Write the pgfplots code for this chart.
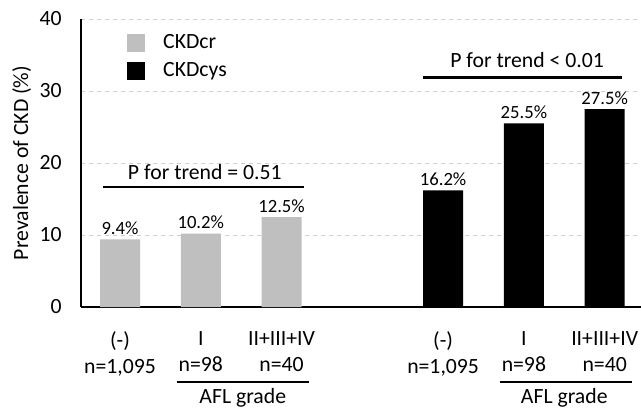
\documentclass[border=0pt]{standalone}
\usepackage{fontspec}
\setmainfont{Carlito}
\usepackage{pgfplots}
\pgfplotsset{compat=1.18}
\definecolor{barGray}{RGB}{191,191,191}
\definecolor{gridGray}{RGB}{205,205,205}
\newcommand{\bigf}{\fontsize{16.3}{18.75}\selectfont}
\newcommand{\smallf}{\fontsize{14}{16}\selectfont}
\begin{document}
\begin{tikzpicture}
\path[use as bounding box] (-60.75pt,-75.75pt) rectangle (420pt,230.25pt);
\begin{axis}[
  at={(0,0)}, anchor=south west,
  scale only axis, width=420pt, height=216pt,
  xmin=-0.483, xmax=6.45, ymin=0, ymax=40,
  axis lines*=left,
  axis line style={line width=1.8pt, black},
  ytick={0,10,20,30,40},
  xtick={0,1,2,4,5,6},
  xticklabels={{(-)\\[0.5pt]n=1,095},{I\\[0.5pt]n=98},{II+III+IV\\[0.5pt]n=40},{(-)\\[0.5pt]n=1,095},{I\\[0.5pt]n=98},{II+III+IV\\[0.5pt]n=40}},
  xticklabel style={align=center, font=\bigf, yshift=-15pt},
  yticklabel style={font=\bigf, xshift=-11pt},
  /pgf/number format/assume math mode=true,
  major tick length=0pt,
  ymajorgrids, grid style={dashed, gridGray, line width=0.6pt},
  ylabel={Prevalence of CKD (\%)},
  ylabel style={at={(axis description cs:-0.106,0.5)}, anchor=center, font=\bigf},
  bar shift=0pt,
  clip=false,
  nodes near coords,
  nodes near coords style={font=\smallf, black},
  legend style={at={(rel axis cs:0.082,0.95)}, anchor=north west, draw=none, fill=none,
    inner sep=0pt, row sep=7pt, font=\bigf, legend cell align=left,
    nodes={inner ysep=0pt, inner xsep=0pt, text height=11pt, text depth=3pt}},
]
\addplot[ybar, fill=barGray, draw=none, bar width=0.495, point meta=explicit symbolic,
  legend image code/.code={\fill[barGray] (0pt,-6.75pt) rectangle (13.5pt,6.75pt); \path (27pt,0pt);}]
  coordinates {(0,9.4)[9.4\%] (1,10.2)[10.2\%] (2,12.5)[12.5\%]};
\addplot[ybar, fill=black, draw=none, bar width=0.495, point meta=explicit symbolic,
  legend image code/.code={\fill[black] (0pt,-6.75pt) rectangle (13.5pt,6.75pt); \path (27pt,0pt);}]
  coordinates {(4,16.2)[16.2\%] (5,25.5)[25.5\%] (6,27.5)[27.5\%]};
\legend{CKDcr, CKDcys}
% trend annotations
\draw[line width=1.8pt] (axis cs:-0.21,16.67) -- (axis cs:2.28,16.67);
\node[font=\bigf] at (axis cs:1.05,18.8) {P for trend = 0.51};
\draw[line width=1.8pt] (axis cs:3.75,31.9) -- (axis cs:6.22,31.9);
\node[font=\bigf] at (axis cs:5.04,34.3) {P for trend < 0.01};
% AFL grade
\draw[line width=1.8pt] (axis cs:0.705,-10.45) -- (axis cs:2.339,-10.45);
\node[font=\bigf] at (axis cs:1.52,-12.6) {AFL grade};
\draw[line width=1.8pt] (axis cs:4.70,-10.45) -- (axis cs:6.34,-10.45);
\node[font=\bigf] at (axis cs:5.5,-12.6) {AFL grade};
\end{axis}
\end{tikzpicture}
\end{document}
